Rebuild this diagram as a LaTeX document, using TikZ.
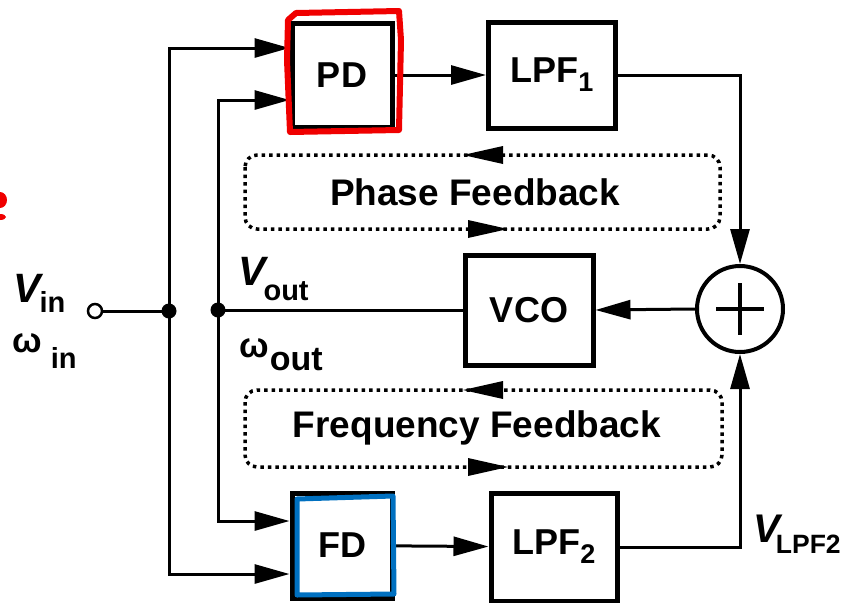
\documentclass[tikz,border=0pt]{standalone}
\usepackage{fontspec}
\setmainfont{Liberation Sans}
\usetikzlibrary{arrows.meta,calc}
\definecolor{markblue}{RGB}{0,112,192}
\definecolor{markred}{RGB}{240,0,0}
\begin{document}
\begin{tikzpicture}[x=1pt,y=-1pt,
  blk/.style={draw, line width=5pt, inner sep=0pt, font=\fontsize{36}{36}\selectfont\bfseries},
  con/.style={line width=3pt},
  arr/.style={con,-{Triangle[length=35pt,width=19pt]}},
  loopbox/.style={line width=3.5pt, dash pattern=on 3.5pt off 4pt, rounded corners=12pt},
  looptext/.style={font=\fontsize{37}{37}\selectfont\bfseries},
  jdot/.style={circle, fill, inner sep=0pt, minimum size=15pt},
  sub/.style={inner sep=0pt, anchor=base west}]
\useasboundingbox (0,0) rectangle (847,603);

% blocks
\node[blk, minimum width=100pt, minimum height=104pt] (PD) at (342,75) {PD};
\node[blk, minimum width=127pt, minimum height=106pt] (LPF1) at (552,75)
  {LPF\raisebox{-9pt}{\fontsize{27}{27}\selectfont 1}};
\node[blk, minimum width=128pt, minimum height=110pt] (VCO) at (529,310) {VCO};
\node[blk, minimum width=100pt, minimum height=105pt] (FD) at (342,545.5) {FD};
\node[blk, minimum width=126pt, minimum height=108pt] (LPF2) at (554,547)
  {LPF\raisebox{-9pt}{\fontsize{27}{27}\selectfont 2}};
\node[circle, draw, line width=4pt, minimum size=86pt, inner sep=0pt] (sum) at (740,309) {};
\draw[line width=4pt] ($(sum.center)+(-24,0)$) -- ($(sum.center)+(24,0)$);
\draw[line width=4pt] ($(sum.center)+(0,-26)$) -- ($(sum.center)+(0,26)$);

% input terminal and junctions
\node[circle, draw, line width=2.5pt, fill=white, inner sep=0pt, minimum size=14pt] (vin) at (95,311) {};
\node[jdot] (d1) at (169,311) {};
\node[jdot] (d2) at (218,310) {};

% connectors
\draw[con] (vin) -- (d1.center);
\draw[arr] (d1.center) |- ([yshift=27pt]PD.west);
\draw[arr] (d1.center) |- ([yshift=-28.5pt]FD.west);
\draw[arr] (d2.center) |- ([yshift=-25pt]PD.west);
\draw[arr] (d2.center) |- ([yshift=24.5pt]FD.west);
\draw[con] (VCO.west) -- (d2.center);
\draw[arr] (PD) -- (LPF1);
\draw[arr] (FD) -- (LPF2);
\draw[arr] (LPF1.east) -| (sum.north);
\draw[arr] (LPF2.east) -| (sum.south);
\draw[arr] (sum.west) -- (VCO.east);

% feedback loops
\draw[loopbox] (245,155) rectangle (720,229);
\fill (463,155) -- (503,146) -- (503,164) -- cycle;
\fill (508,229) -- (468,220) -- (468,238) -- cycle;
\node[looptext] (pfb) at (475,192) {Phase Feedback};
\draw[loopbox] (245,390) rectangle (722,467);
\fill (463,390) -- (503,381) -- (503,399) -- cycle;
\fill (508,467) -- (468,458) -- (468,476) -- cycle;
\node[looptext] (ffb) at (477,428) {Frequency Feedback};

% labels
\node[sub] (lvin) at (13,302) {\fontsize{41}{41}\selectfont\bfseries\itshape V\hspace{-1pt}\raisebox{-10pt}{\fontsize{29}{29}\selectfont\upshape in}};
\node[sub] (lwin) at (12,352) {\fontsize{35}{35}\selectfont\bfseries ω\hspace{9pt}\raisebox{-16pt}{\fontsize{29}{29}\selectfont in}};
\node[sub] (lvout) at (238,285) {\fontsize{41}{41}\selectfont\bfseries\itshape V\hspace{-2pt}\raisebox{-15pt}{\fontsize{29}{29}\selectfont\upshape out}};
\node[sub] (lwout) at (239,357) {\fontsize{35}{35}\selectfont\bfseries ω\hspace{1pt}\raisebox{-13pt}{\fontsize{34}{34}\selectfont out}};
\node[sub] (lvlpf) at (753,542) {\fontsize{40}{40}\selectfont\bfseries\itshape V\hspace{-4pt}\raisebox{-11pt}{\fontsize{26.5}{26.5}\selectfont\upshape LPF2}};

% hand-drawn highlight marks
\draw[markred, line width=6pt, line join=round] (288,20) -- (296,13) -- (399,11) -- (401,40) -- (399,130) -- (290,132) -- (287,60) -- cycle;
\draw[markblue, line width=5pt, line join=round] (297,499) -- (393,496) -- (394,594) -- (297,595) -- cycle;
\fill[markred] (0,200) ellipse (7 and 8);
\fill[markred] (0,217) ellipse (6 and 3);
\end{tikzpicture}
\end{document}
